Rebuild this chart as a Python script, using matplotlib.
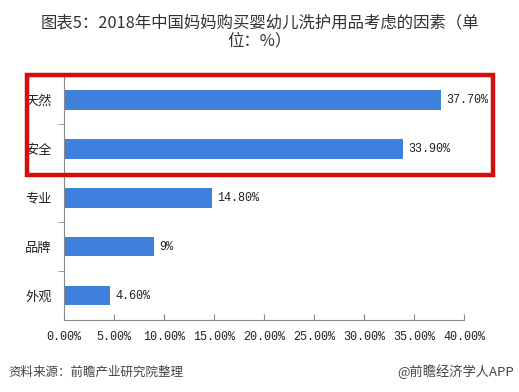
import matplotlib
matplotlib.use("Agg")
import matplotlib.pyplot as plt
from matplotlib.patches import Rectangle
from matplotlib.ticker import FuncFormatter

plt.rcParams['font.family'] = ['Noto Sans CJK SC', 'DejaVu Sans']

categories = ["天然", "安全", "专业", "品牌", "外观"]
values = [37.7, 33.9, 14.8, 9.0, 4.6]
value_labels = ["37.70%", "33.90%", "14.80%", "9%", "4.60%"]
xticks = [0, 5, 10, 15, 20, 25, 30, 35, 40]
title = "图表5：2018年中国妈妈购买婴幼儿洗护用品考虑的因素（单\n位：%）"
source = "资料来源：前瞻产业研究院整理"
credit = "@前瞻经济学人APP"

W, H = 519, 392
fig = plt.figure(figsize=(W / 100, H / 100), dpi=100)
ax = fig.add_axes([64 / W, 1 - 320 / H, 400 / W, 244.5 / H])

ypos = list(range(len(categories)))
ax.barh(ypos, values, height=0.4, color="#3F80DD", zorder=2)
ax.set_ylim(len(categories) - 0.5, -0.5)
ax.set_xlim(0, 40)
ax.set_yticks(ypos)
ax.set_yticklabels(categories, fontsize=9.5, color="#222222")
ax.set_yticks([i + 0.5 for i in range(len(categories) - 1)], minor=True)
ax.tick_params(axis='y', which='major', length=0, pad=9)
ax.tick_params(axis='y', which='minor', length=4, color="#888888", direction='out')
ax.set_xticks(xticks)
ax.xaxis.set_major_formatter(FuncFormatter(lambda v, p: f"{v:.2f}%"))
ax.tick_params(axis='x', length=4, color="#888888", direction='in', labelsize=8.5,
               labelcolor="#222222", pad=8)
for lab in ax.get_xticklabels():
    lab.set_family(['Liberation Mono', 'DejaVu Sans Mono'])
for s in ['top', 'right']:
    ax.spines[s].set_visible(False)
ax.spines['left'].set_color("#888888")
ax.spines['bottom'].set_color("#888888")

for y, v, lab in zip(ypos, values, value_labels):
    ax.text(v + 0.5, y, lab, va='center', ha='left', fontsize=8.5, color="#222222",
            family=['Liberation Mono', 'DejaVu Sans Mono'])

fig.text(0.5, 1 - 32 / H, title, ha='center', va='center', fontsize=11.8,
         color="#333333", linespacing=1.05)

rect = Rectangle((27 / W, 1 - 175 / H), (493 - 27) / W, 100 / H,
                 transform=fig.transFigure, fill=False, edgecolor="#D40D0D",
                 linewidth=3.2, clip_on=False, zorder=5)
fig.patches.append(rect)

fig.text(8 / W, 1 - 372 / H, source, ha='left', va='center', fontsize=9,
         color="#444444", style='italic')
fig.text(514 / W, 1 - 372 / H, credit, ha='right', va='center', fontsize=9.5,
         color="#444444")

fig.savefig("out.png", dpi=100)
